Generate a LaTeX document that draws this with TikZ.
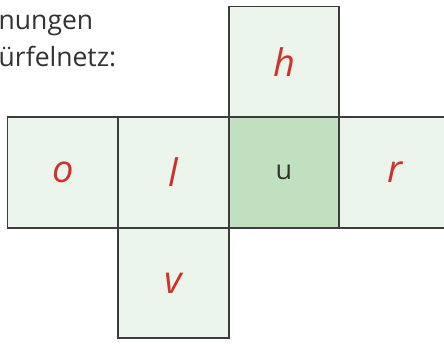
\documentclass[tikz,border=0pt]{standalone}
\usepackage{fontspec}
\setmainfont{Open Sans}
\definecolor{facelight}{HTML}{EBF5EB}
\definecolor{facedark}{HTML}{C1E0BF}
\definecolor{edgegray}{HTML}{3C3C3C}
\definecolor{labelred}{HTML}{D0322A}
\definecolor{textgray}{HTML}{333333}
\tikzset{
  face/.style={draw=edgegray, line width=1.8pt, fill=facelight, minimum size=110.6pt, inner sep=0pt, outer sep=0pt},
  facemain/.style={face, fill=facedark},
  lbl/.style={text=labelred, font=\fontsize{38}{42}\selectfont\itshape},
  ulbl/.style={text=textgray, font=\fontsize{27}{32}\selectfont},
  heading/.style={text=textgray, font=\fontsize{26.5}{30}\selectfont, inner sep=0pt, anchor=base west}
}
\begin{document}
\begin{tikzpicture}[x=1pt,y=-1pt]
\useasboundingbox (0,0) rectangle (444,343);
\clip (0,0) rectangle (444,343);
\node[face] (ho) at (284.0,61.8) {};
\node[face] (o) at (62.8,172.4) {};
\node[face] (l) at (173.4,172.4) {};
\node[face] (r) at (394.6,172.4) {};
\node[face] (v) at (173.4,283.0) {};
\node[facemain] (u) at (284.0,172.4) {};
\node[lbl] (hl) at (ho.center) {h};
\node[lbl] (ol) at (o.center) {o};
\node[lbl] (ll) at (l.center) {l};
\node[lbl] (rl) at (r.center) {r};
\node[lbl] (vl) at (v.center) {v};
\node[ulbl] (ul) at (u.center) {u};
\node[heading] (t1) at (-1.5,29) {nungen};
\node[heading] (t2) at (-1.5,66.5) {ürfelnetz:};
\end{tikzpicture}
\end{document}
